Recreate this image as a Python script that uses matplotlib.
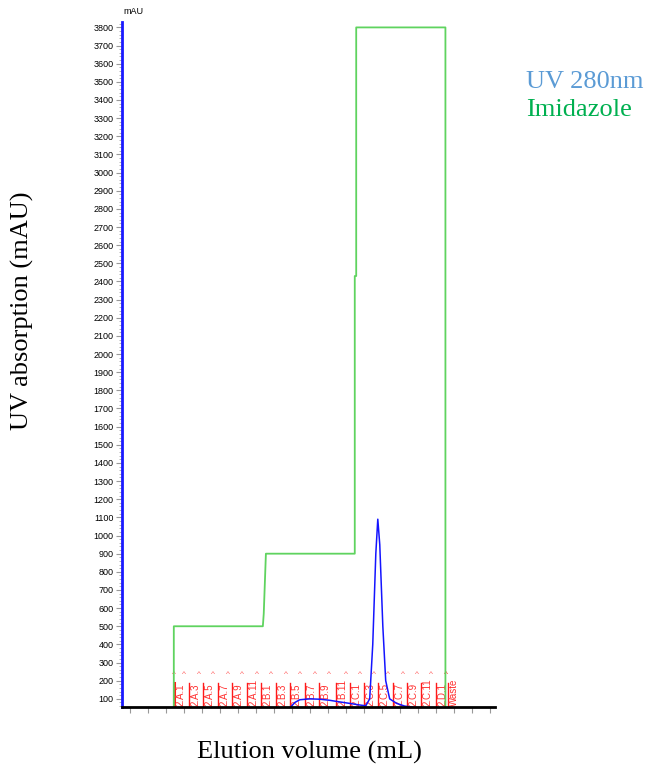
import matplotlib.pyplot as plt
import numpy as np

# elution volume (mL) / absorbance (mAU)
uv_x = [0.0, 8.6, 8.89, 9.17, 9.44, 10.0, 10.56, 11.11, 11.67, 12.22, 12.78, 13.11,
        13.33, 13.5, 13.67, 13.78, 13.89, 14.06, 14.22, 14.44, 14.83, 15.28, 15.67,
        16.11, 16.67, 20.3]
uv_y = [0, 0, 50, 80, 95, 100, 98, 92, 83, 75, 66, 62,
        100, 400, 900, 1090, 950, 500, 200, 100, 75, 60, 55,
        50, 45, 40]

# imidazole gradient (drawn on the same mAU scale)
imid_x = [2.44, 2.44, 7.39, 7.44, 7.56, 12.50, 12.50, 12.58, 12.58, 17.54, 17.54]
imid_y = [0, 500, 500, 570, 900, 900, 2430, 2430, 3800, 3800, 0]

# fractions
frac_x = [2.44, 3.28, 4.06, 4.89, 5.67, 6.50, 7.28, 8.11, 8.89, 9.72, 10.50,
          11.44, 12.22, 13.00, 13.78, 14.61, 15.39, 16.17, 17.00, 17.67]
frac_lbl = ['2.A.1', '2.A.3', '2.A.5', '2.A.7', '2.A.9', '2.A.11', '2.B.1', '2.B.3',
            '2.B.5', '2.B.7', '2.B.9', '2.B.11', '2.C.1', '2.C.3', '2.C.5', '2.C.7',
            '2.C.9', '2.C.11', '2.D.1', 'Waste']

fig = plt.figure(figsize=(6.48, 7.68), dpi=100)
ax = fig.add_axes([0.188, 0.0794, 0.576, 0.892])

# fraction marks
for i, (fx, lb) in enumerate(zip(frac_x, frac_lbl)):
    ax.plot([fx, fx], [55, 187], color='#ff1a1a', lw=2.2 if i == 0 else 1.0, zorder=2)
    ax.text(fx + 0.36, 58, lb, rotation=90, ha='center', va='bottom', fontsize=7,
            color='#ff3030', family='Liberation Sans', zorder=2)
caret_x = [frac_x[0]] + [f + 0.55 for f in frac_x[:-1]] + [frac_x[-1] - 0.1]
for cx in caret_x:
    ax.text(cx, 232, '^', fontsize=6, color='#ff5a5a', ha='center', va='center',
            family='Liberation Sans', zorder=2)

ax.plot(imid_x, imid_y, color='#5fd35f', lw=1.3, zorder=3)
ax.plot(uv_x, uv_y, color='#1414ff', lw=1.1, zorder=4)

ax.set_xlim(-0.45, 20.3)
ax.set_ylim(55, 3830)

ax.set_yticks(np.arange(100, 3801, 100))
ax.set_yticks(np.arange(60, 3830, 20), minor=True)
ax.set_xticks(np.arange(0, 20.3, 1.0))
ax.set_xticklabels([])
ax.tick_params(axis='y', which='major', labelsize=6.5, length=4, color='#999999',
               pad=2)
ax.tick_params(axis='y', which='minor', length=2.5, color='#aaaaaa')
ax.tick_params(axis='x', which='major', length=4, color='#999999')
for t in ax.get_yticklabels():
    t.set_family('Liberation Sans')

for s in ['top', 'right']:
    ax.spines[s].set_visible(False)
ax.spines['left'].set_color('#1a1aff')
ax.spines['left'].set_linewidth(2)
ax.spines['bottom'].set_color('black')
ax.spines['bottom'].set_linewidth(2)
ax.spines['bottom'].set_zorder(6)
ax.spines['left'].set_zorder(6)

fig.text(0.191, 0.985, 'mAU', fontsize=6.5, family='Liberation Sans', va='center')

fig.text(0.478, 0.020, 'Elution volume (mL)', fontsize=19, family='Liberation Serif',
         ha='center', va='center')
fig.text(0.034, 0.596, 'UV absorption (mAU)', fontsize=19, family='Liberation Serif',
         rotation=90, ha='center', va='center')

fig.text(0.812, 0.893, 'UV 280nm', fontsize=19, family='Liberation Serif',
         color='#5b9bd5', va='center')
fig.text(0.812, 0.857, 'Imidazole', fontsize=19, family='Liberation Serif',
         color='#00b050', va='center')

fig.savefig('out.png', dpi=100)
